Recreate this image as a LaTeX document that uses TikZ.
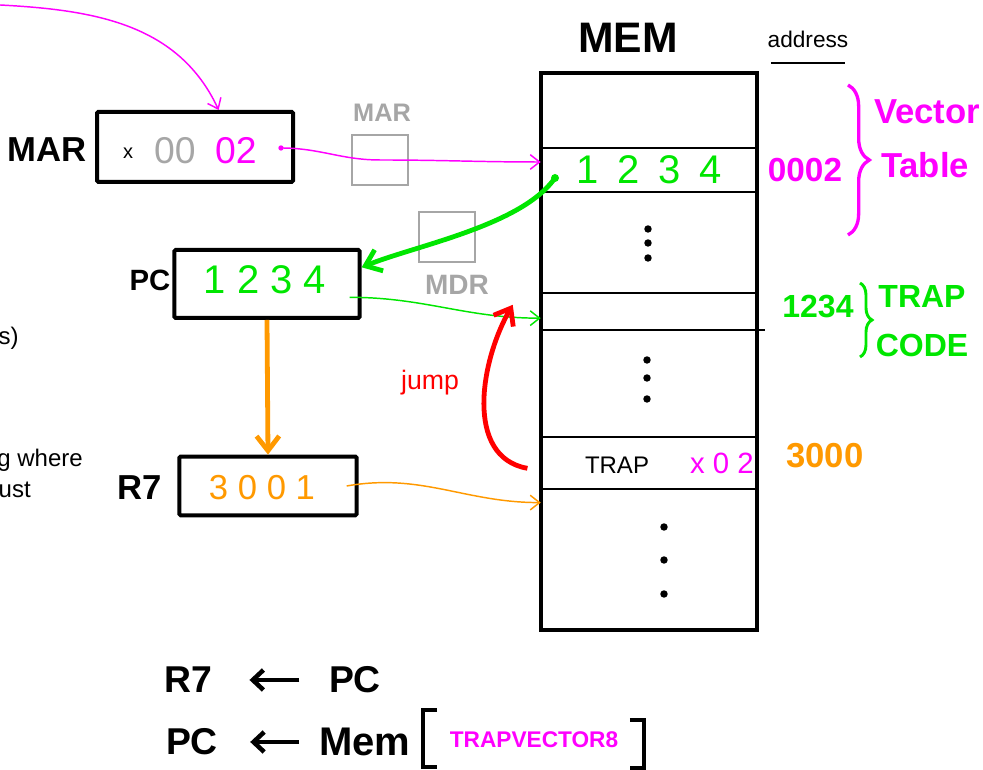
\documentclass[tikz,border=0pt]{standalone}
\usepackage{fontspec}
\setmainfont{Liberation Sans}
\usepackage{tikz}
\usetikzlibrary{arrows.meta,calc,decorations.pathreplacing,positioning}
\definecolor{penmagenta}{HTML}{FF00FF}
\definecolor{pengreen}{HTML}{00E600}
\definecolor{penorange}{HTML}{FF9900}
\definecolor{pengray}{HTML}{A6A6A6}
\definecolor{penred}{HTML}{FF0000}
\newcommand{\penfs}[1]{\fontsize{#1}{#1}\selectfont}
\tikzset{
  regbox/.style={draw,line width=3pt,rounded corners=1pt,inner sep=0pt},
  reglabel/.style={font=\bfseries\penfs{26}},
  ghostbox/.style={draw=pengray,line width=2.2pt,inner sep=0pt,minimum width=42pt,minimum height=37.5pt},
  ghostlabel/.style={text=pengray,font=\bfseries\penfs{19}},
  memrow/.style={inner sep=0pt,minimum width=162pt},
  rowline/.style={line width=1.5pt},
  thinwire/.style={line width=1.1pt,-{Straight Barb[length=7pt,width=11pt]}},
  thickwire/.style={line width=3.6pt,-{Straight Barb[length=11pt,width=17pt]}},
  fragtext/.style={font=\penfs{18},inner sep=0pt},
  formula/.style={font=\bfseries\penfs{28},inner sep=0pt},
  formarrow/.style={line width=3.4pt,-{Straight Barb[length=8pt,width=15pt]}},
  bracketline/.style={line width=3.4pt}
}
\begin{document}
\begin{tikzpicture}[x=0.75pt,y=0.75pt]
  \useasboundingbox (0,0) rectangle (983,770);
  % text cut off at the left edge
  \node[fragtext,anchor=east] (fragone) at (19,432) {s)};
  \node[fragtext,anchor=east] (fragtwo) at (83,310) {g where};
  \node[fragtext,anchor=east] (fragthree) at (31,280) {ust};

  % registers
  \node[regbox,minimum width=147pt,minimum height=52.5pt] (marbox) at (195,623) {};
  \node[reglabel] (marlabel) at (47,620) {MAR};
  \node[font=\penfs{15}] (marx) at (128,617) {x};
  \node[text=pengray,font=\penfs{28}] (marhi) at (175,619) {00};
  \node[text=penmagenta,font=\penfs{28}] (marlo) at (236,619) {02};
  \coordinate (mardot) at (281,622);
  \fill[penmagenta] (mardot) circle (2pt);

  \node[regbox,minimum width=139pt,minimum height=51pt] (pcbox) at (267,486) {};
  \node[reglabel,font=\bfseries\penfs{22}] (pclabel) at (150,490) {PC};
  \node[text=pengreen,font=\penfs{30}] (pcval) at (265,490) {1 2 3 4};

  \node[regbox,minimum width=133pt,minimum height=44pt] (rsevenbox) at (268,284) {};
  \node[reglabel] (rsevenlabel) at (140,282) {R7};
  \node[text=penorange,font=\penfs{26}] (rsevenval) at (262,282) {3 0 0 1};

  \node[ghostbox] (marreg) at (380,610) {};
  \node[ghostlabel] (marreglabel) at (382,657) {MAR};
  \node[ghostbox] (mdrreg) at (447,533) {};
  \node[ghostlabel,font=\bfseries\penfs{21}] (mdrreglabel) at (457,485) {MDR};

  % memory
  \node[draw,line width=3pt,minimum width=162pt,minimum height=417.75pt,inner sep=0pt] (mem) at (649,418.5) {};
  \node[font=\bfseries\penfs{32}] (memtitle) at (628,732) {MEM};
  \node[font=\penfs{17}] (addrtitle) at (808,731) {address};
  \draw[line width=1.5pt] ([xshift=6pt,yshift=-8pt]addrtitle.south west) -- ([xshift=-6pt,yshift=-8pt]addrtitle.south east);
  \node[memrow,minimum height=33pt,text=pengreen,font=\penfs{30}] (rowone) at (649,600) {1\hspace{14pt}2\hspace{14pt}3\hspace{14pt}4};
  \node[memrow,minimum height=27.75pt] (coderow) at (649,458.5) {};
  \node[memrow,minimum height=39pt] (traprow) at (649,307) {};
  \foreach \r in {rowone,coderow,traprow}
    \draw[rowline] (\r.north west) -- (\r.north east) (\r.south west) -- (\r.south east);
  \draw[rowline] (coderow.south east) -- ++(6pt,0);
  \foreach \y in {541,527,512} \fill (648,\y) circle (2.8pt);
  \foreach \y in {410,392,371} \fill (647,\y) circle (2.8pt);
  \foreach \y in {243,210,176} \fill (664,\y) circle (2.8pt);
  \node[font=\penfs{18}] (traptext) at (617,305) {TRAP};
  \node[text=penmagenta,font=\penfs{22}] (trapvec) at (722,307) {x 0 2};
  \node[text=penorange,font=\bfseries\penfs{26}] (trapaddr) at (825,314) {3000};

  % addresses on the right
  \node[text=penmagenta,font=\bfseries\penfs{25}] (vecaddr) at (805,600) {0002};
  \draw[penmagenta,line width=2.5pt,decorate,decoration={brace,amplitude=16pt}] (848,685) -- (848,535);
  \node[text=penmagenta,font=\bfseries\penfs{26}] (vectitle) at (927,658) {Vector};
  \node[text=penmagenta,font=\bfseries\penfs{26}] (tabletitle) at (925,605) {Table};
  \node[text=pengreen,font=\bfseries\penfs{24}] (codeaddr) at (818,463) {1234};
  \draw[pengreen,line width=2.2pt,decorate,decoration={brace,amplitude=9pt}] (860,487) -- (860,413);
  \node[text=pengreen,font=\bfseries\penfs{24}] (traptitle) at (922,473) {TRAP};
  \node[text=pengreen,font=\bfseries\penfs{24}] (codetitle) at (922,425) {CODE};
  \node[text=penred,font=\penfs{20}] (jumplabel) at (430,387) {jump};

  % wires
  \coordinate (magsrc) at (0,765);
  \draw[thinwire,penmagenta] (magsrc) to[out=-3,in=115] ([xshift=-13pt]marlo.north |- marbox.north);
  \draw[thinwire,penmagenta] (mardot) to[out=0,in=180] (marreg.center) to[out=0,in=180] ([yshift=6pt]rowone.west);
  \coordinate (gdot) at (555,592);
  \fill[pengreen] (gdot) circle (3pt);
  \draw[thickwire,pengreen] (gdot) to[out=235,in=22,looseness=0.7] (pcbox.10);
  \draw[thinwire,pengreen] ([xshift=-9pt,yshift=-10pt]pcbox.east) to[out=0,in=180] ([yshift=-5pt]coderow.west);
  \draw[thickwire,penorange] (pcbox.south) -- (rsevenbox.north);
  \draw[thinwire,penorange] ([xshift=-9pt]rsevenbox.east) to[out=10,in=180] ([yshift=-10pt]traprow.south west);
  \draw[thickwire,penred] ([xshift=-10pt,yshift=-4pt]traprow.west) to[out=170,in=240] ([xshift=-21pt,yshift=5pt]coderow.west);

  % register transfers
  \node[formula] (fmrseven) at (188,90) {R7};
  \node[formula] (fmpcone) at (355,90) {PC};
  \draw[formarrow,shorten <=22pt,shorten >=28pt] (fmpcone) -- (fmrseven);
  \node[formula] (fmpctwo) at (192,28) {PC};
  \node[formula,font=\bfseries\penfs{30}] (fmmem) at (365,28) {Mem};
  \draw[formarrow,shorten <=15pt,shorten >=24pt] (fmmem) -- (fmpctwo);
  \node[text=penmagenta,font=\bfseries\penfs{17}] (fmvec) at (534,30) {TRAPVECTOR8};
  \draw[bracketline] ($(fmvec.west)+(-8,30)$) -- ++(-14,0) -- ++(0,-57) -- ++(14,0);
  \draw[bracketline] ($(fmvec.east)+(7,20)$) -- ++(14,0) -- ++(0,-48) -- ++(-14,0);
\end{tikzpicture}
\end{document}
